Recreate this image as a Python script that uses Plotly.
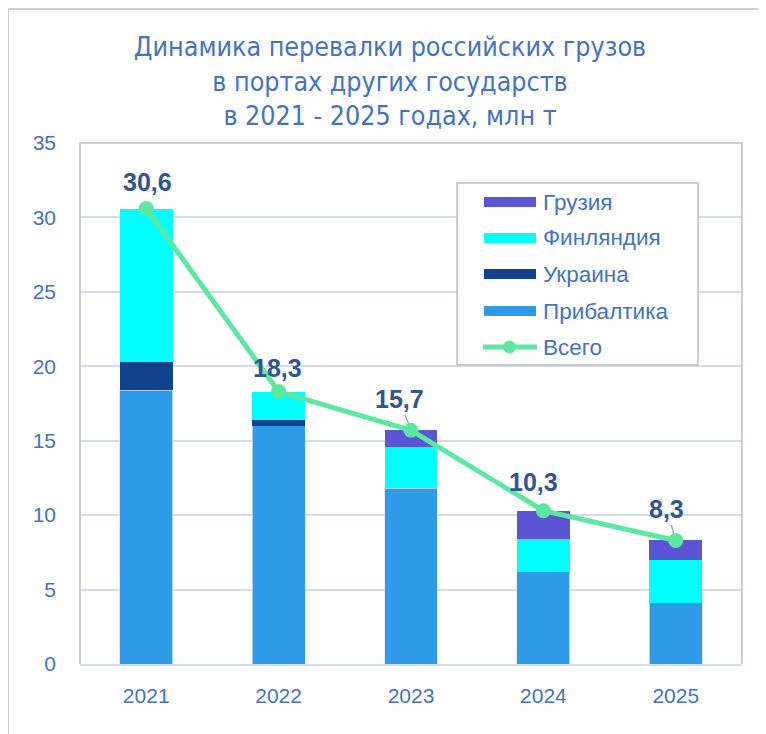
import plotly.graph_objects as go

years = ["2021", "2022", "2023", "2024", "2025"]
baltic = [18.4, 16.0, 11.8, 6.2, 4.1]
ukraine = [1.9, 0.4, 0.0, 0.0, 0.0]
finland = [10.3, 1.9, 2.8, 2.2, 2.9]
georgia = [0.0, 0.0, 1.1, 1.9, 1.3]
total = [30.6, 18.3, 15.7, 10.3, 8.3]
total_labels = ["30,6", "18,3", "15,7", "10,3", "8,3"]

series_names = ["Грузия", "Финляндия", "Украина", "Прибалтика", "Всего"]
title_text = "Динамика перевалки российских грузов<br>в портах других государств<br>в 2021 - 2025 годах, млн т"

OFF = 8  # page body margin
W, H = 766 - OFF, 734 - OFF
# plot area in screen pixels
SX0, SX1, SY0, SY1 = 80, 742, 143, 664
L, R, T, B = SX0 - OFF, W - (SX1 - OFF), SY0 - OFF, H - (SY1 - OFF)
PW, PH = SX1 - SX0, SY1 - SY0

def px(x):
    return (x - SX0) / PW

def py(y):
    return (SY1 - y) / PH

C_BALTIC = "#2E9AE8"
C_UKR = "#13428F"
C_FIN = "#00FFFF"
C_GEO = "#5B55D6"
C_LINE = "#5CE8A0"
C_TEXT = "#4472C4"
C_LABEL = "#2F5597"
C_GRID = "#D3DBEF"
C_BORDER = "#BFBFBF"
FONT = "Liberation Sans, Arial, sans-serif"
TFONT = "Liberation Sans Narrow, DejaVu Sans Condensed, Liberation Sans, sans-serif"

fig = go.Figure()
bar_line = dict(width=0.8, color="rgba(220,230,245,0.9)")
fig.add_trace(go.Bar(x=years, y=baltic, name=series_names[3], marker=dict(color=C_BALTIC, line=bar_line), showlegend=False))
fig.add_trace(go.Bar(x=years, y=ukraine, name=series_names[2], marker=dict(color=C_UKR, line=dict(width=0)), showlegend=False))
fig.add_trace(go.Bar(x=years, y=finland, name=series_names[1], marker=dict(color=C_FIN, line=dict(width=0)), showlegend=False))
fig.add_trace(go.Bar(x=years, y=georgia, name=series_names[0], marker=dict(color=C_GEO, line=dict(width=0)), showlegend=False))
fig.add_trace(go.Scatter(x=years, y=total, name=series_names[4], mode="lines+markers",
                         line=dict(color=C_LINE, width=5), marker=dict(color=C_LINE, size=15),
                         showlegend=False))

# data labels (x given as category index on the category axis)
offsets = [(1, -27), (-1, -24), (-12, -31), (-10, -29), (-9, -31)]
leader = [False, False, True, False, True]
annotations = []
for i, (v, lab, (dx, dy), ld) in enumerate(zip(total, total_labels, offsets, leader)):
    annotations.append(dict(x=i, y=v, xref="x", yref="y", text="<b>%s</b>" % lab,
                            showarrow=True, ax=dx, ay=dy, arrowhead=0, arrowwidth=1.5,
                            arrowcolor="#8EA9DB" if ld else "rgba(0,0,0,0)", standoff=7,
                            font=dict(family=FONT, size=25, color=C_LABEL)))

# custom legend
leg_x0, leg_y0, leg_x1, leg_y1 = 457, 183, 698, 365
shapes = [
    # outer chart border
    dict(type="rect", xref="paper", yref="paper", x0=px(8), y0=py(780), x1=px(800), y1=py(9),
         line=dict(color=C_BORDER, width=1.5), layer="below"),
    # plot area border (left, top, right)
    dict(type="path", xref="paper", yref="paper",
         path="M 0 0 L 0 1 L 1 1 L 1 0", line=dict(color=C_BORDER, width=1.5)),
    dict(type="rect", xref="paper", yref="paper", x0=px(leg_x0), y0=py(leg_y1), x1=px(leg_x1), y1=py(leg_y0),
         line=dict(color=C_BORDER, width=1.5), fillcolor="white"),
]
item_y = [202, 238, 274, 311, 347]
swatch_colors = [C_GEO, C_FIN, C_UKR, C_BALTIC]
for i in range(4):
    shapes.append(dict(type="rect", xref="paper", yref="paper", x0=px(484), x1=px(536),
                       y0=py(item_y[i] + 5), y1=py(item_y[i] - 5), line=dict(width=0), fillcolor=swatch_colors[i]))
shapes.append(dict(type="line", xref="paper", yref="paper", x0=px(483), x1=px(537),
                   y0=py(item_y[4]), y1=py(item_y[4]), line=dict(color=C_LINE, width=5)))
shapes.append(dict(type="circle", xref="paper", yref="paper", x0=px(503), x1=px(516),
                   y0=py(item_y[4] + 6.5), y1=py(item_y[4] - 6.5), line=dict(width=0), fillcolor=C_LINE))
for i, nm in enumerate(series_names):
    annotations.append(dict(x=px(541), y=py(item_y[i]), xref="paper", yref="paper", text=nm,
                            showarrow=False, xanchor="left", yanchor="middle",
                            font=dict(family=FONT, size=22.5, color=C_TEXT)))

fig.update_layout(
    width=W, height=H,
    margin=dict(l=L, r=R, t=T, b=B, pad=0),
    barmode="stack", bargap=0.6,
    paper_bgcolor="white", plot_bgcolor="white",
    title=dict(text=title_text, x=(390 - OFF) / W, xanchor="center", y=1 - 48 / H, yanchor="middle",
               font=dict(family=TFONT, size=26.6, color=C_TEXT)),
    showlegend=False,
    shapes=shapes,
    annotations=annotations,
    xaxis=dict(type="category", showgrid=False, showline=True, linecolor=C_GRID, linewidth=2, ticks="",
               tickfont=dict(family=FONT, size=21, color=C_TEXT), ticklabelstandoff=12),
    yaxis=dict(range=[0, 35], tickvals=[0, 5, 10, 15, 20, 25, 30, 35], showgrid=True, gridcolor=C_GRID,
               gridwidth=1.5, zeroline=False, showline=False, ticks="",
               tickfont=dict(family=FONT, size=21, color=C_TEXT), ticklabelstandoff=23),
    font=dict(family=FONT),
)

fig.write_html("out.html")
